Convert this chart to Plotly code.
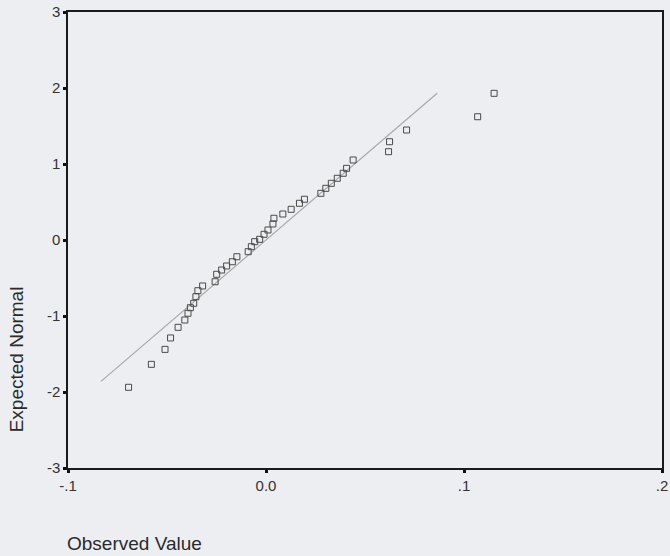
import plotly.graph_objects as go

observed = [-0.0694, -0.0579, -0.0510, -0.0482, -0.0444, -0.0410, -0.0394, -0.0382,
            -0.0365, -0.0354, -0.0344, -0.0320, -0.0257, -0.0249, -0.0224, -0.0199,
            -0.0170, -0.0147, -0.0090, -0.0074, -0.0057, -0.0032, -0.0010, 0.0010,
            0.0035, 0.0040, 0.0085, 0.0127, 0.0169, 0.0194, 0.0277, 0.0302,
            0.0330, 0.0360, 0.0390, 0.0407, 0.0440, 0.0619, 0.0624, 0.0710,
            0.1069, 0.1152]
expected = [-1.938, -1.636, -1.439, -1.289, -1.149, -1.053, -0.964, -0.891,
            -0.833, -0.746, -0.667, -0.605, -0.549, -0.451, -0.395, -0.342,
            -0.286, -0.220, -0.154, -0.088, -0.022, 0.009, 0.075, 0.132,
            0.211, 0.286, 0.342, 0.404, 0.483, 0.536, 0.614, 0.680,
            0.746, 0.812, 0.878, 0.943, 1.053, 1.162, 1.293, 1.447,
            1.622, 1.930]

# Reference normal line: y = (x - mean) / sd, drawn over this expected range
fit_mean = 0.0
fit_sd = 0.0448
line_expected = [-1.86, 1.93]
line_observed = [fit_mean + fit_sd * v for v in line_expected]

x_tickvals = [-0.1, 0.0, 0.1, 0.2]
x_ticktext = ["-.1", "0.0", ".1", ".2"]
y_tickvals = [3, 2, 1, 0, -1, -2, -3]
y_ticktext = ["3", "2", "1", "0", "-1", "-2", "-3"]

bg = "#eceef2"

fig = go.Figure()
fig.add_trace(go.Scatter(x=line_observed, y=line_expected, mode="lines",
                         line=dict(color="#a8a8a8", width=1.2),
                         hoverinfo="skip", showlegend=False))
fig.add_trace(go.Scatter(x=observed, y=expected, mode="markers",
                         marker=dict(symbol="square-open", size=6,
                                     color="#4a4a4a", line=dict(width=1)),
                         showlegend=False))

axis_common = dict(showgrid=False, zeroline=False, showline=True, mirror=True,
                   linecolor="#1a1a1a", linewidth=1.5, ticks="outside",
                   ticklen=3, tickwidth=3, tickcolor="#111",
                   tickfont=dict(family="Arial, Liberation Sans", size=15, color="#333"))

fig.update_xaxes(range=[-0.1, 0.2], tickvals=x_tickvals, ticktext=x_ticktext,
                 ticklabeloverflow="allow", **axis_common)
fig.update_yaxes(range=[-3, 3], tickvals=y_tickvals, ticktext=y_ticktext,
                 **axis_common)

fig.add_annotation(text="Observed Value", xref="paper", yref="paper",
                   x=-0.005, y=-0.1645, xanchor="left", yanchor="middle",
                   showarrow=False,
                   font=dict(family="Arial, Liberation Sans", size=19, color="#2a2a2a"))
fig.add_annotation(text="Expected Normal", xref="paper", yref="paper",
                   x=-0.087, y=0.239, xanchor="center", yanchor="middle",
                   textangle=-90, showarrow=False,
                   font=dict(family="Arial, Liberation Sans", size=19, color="#2a2a2a"))

fig.update_layout(width=670, height=556,
                  margin=dict(l=68, r=2, t=12, b=88),
                  paper_bgcolor=bg, plot_bgcolor=bg)

fig.write_html("out.html",
               config={"displayModeBar": False},
               post_script="document.body.style.margin='0';"
                           "document.body.style.background='" + bg + "';"
                           "document.body.style.overflow='hidden';")
